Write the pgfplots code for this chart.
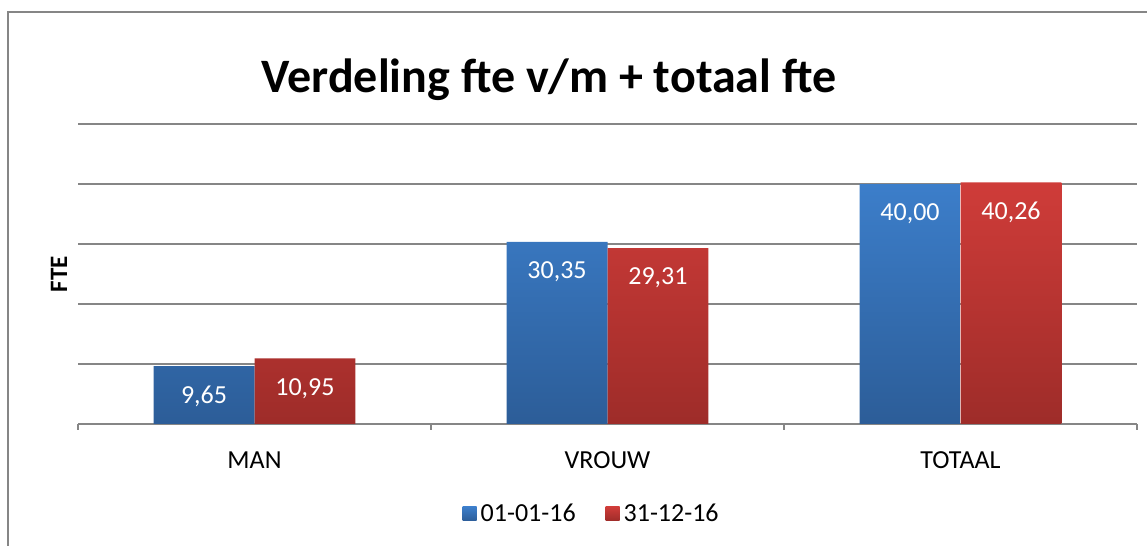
\documentclass[border=0pt]{standalone}
\usepackage{pgfplots}
\pgfplotsset{compat=1.18}
\usepackage{fontspec}
\setmainfont{Carlito}

\definecolor{blueTop}{RGB}{60,126,202}
\definecolor{blueBot}{RGB}{44,93,152}
\definecolor{redTop}{RGB}{207,60,57}
\definecolor{redBot}{RGB}{158,44,41}
\definecolor{gridgray}{RGB}{134,134,134}

\pgfplotsset{
  sq legend/.style={legend image code/.code={\path[##1, draw=none] (0pt,-3.5pt) rectangle (7pt,3.5pt);}},
}

\begin{document}
\begin{tikzpicture}
\path[use as bounding box] (0,0) rectangle (573.5pt,273pt);
\draw[gridgray, line width=1pt] (4pt,0) -- (4pt,267pt) -- (573.5pt,267pt);
\node[font=\bfseries\fontsize{24}{28}\selectfont] at (274.5pt,233pt) {Verdeling fte v/m + totaal fte};

\begin{axis}[
    at={(39pt,61pt)}, anchor=south west,
    scale only axis, width=529.5pt, height=150pt,
    ybar=0pt, bar width=0.286,
    xmin=-0.5, xmax=2.5, ymin=0, ymax=50,
    axis line style={draw=none},
    ytick={0,10,...,50}, yticklabels={},
    ytick style={draw=none},
    ymajorgrids,
    grid style={gridgray, line width=1pt},
    xtick={-0.5,0.5,1.5,2.5}, xticklabels={,,,},
    xtick pos=bottom, tick align=outside,
    xtick style={gridgray, line width=1pt},
    major tick length=3pt,
    extra x ticks={0,1,2},
    extra x tick labels={MAN,VROUW,TOTAAL},
    extra x tick style={major tick length=0pt, grid=none,
        tick label style={anchor=base, yshift=-22.5pt}},
    tick label style={font=\fontsize{13}{15}\selectfont},
    ylabel={FTE},
    every axis y label/.style={at={(rel axis cs:0,0.5)}, anchor=center,
        xshift=-9.5pt, rotate=90, font=\bfseries\fontsize{12.5}{14}\selectfont},
    /pgf/number format/.cd, fixed, fixed zerofill, precision=2, use comma,
        assume math mode=true,
    /pgfplots/.cd,
    nodes near coords,
    every node near coord/.append style={font=\fontsize{13}{15}\selectfont,
        text=white, anchor=center, yshift=-15pt},
    legend style={at={(0.486,-0.3)}, anchor=center, legend columns=2,
        draw=none, fill=none, font=\fontsize{13}{15}\selectfont,
        /tikz/every even column/.append style={column sep=13pt}},
]
\addplot[top color=blueTop, bottom color=blueBot, draw=none, sq legend]
    coordinates {(0,9.65) (1,30.35) (2,40.00)};
\addplot[top color=redTop, bottom color=redBot, draw=none, sq legend]
    coordinates {(0,10.95) (1,29.31) (2,40.26)};
\legend{01-01-16, 31-12-16}
\end{axis}
\end{tikzpicture}
\end{document}
